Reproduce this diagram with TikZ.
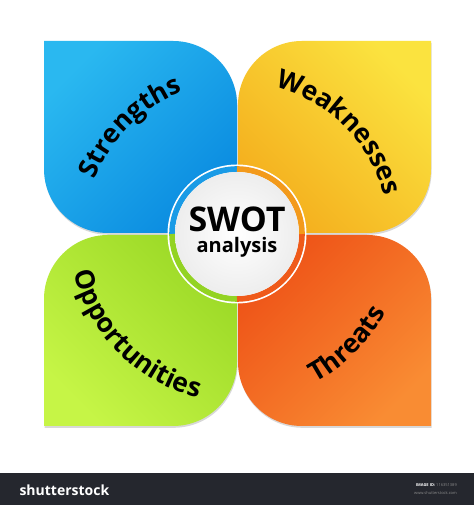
\documentclass[tikz,border=0pt]{standalone}
\usepackage{fontspec}
\newfontfamily\swotfont{Open Sans}
\usetikzlibrary{decorations.text,shadows}

\definecolor{strengthlight}{HTML}{2AB8F0}
\definecolor{strengthdark}{HTML}{0A8BE0}
\definecolor{weaklight}{HTML}{FBE33F}
\definecolor{weakdark}{HTML}{F4AE1D}
\definecolor{opplight}{HTML}{C6F546}
\definecolor{oppdark}{HTML}{9BD926}
\definecolor{threatlight}{HTML}{F98C33}
\definecolor{threatdark}{HTML}{EE5217}
\definecolor{ringblue}{HTML}{1A9BE6}
\definecolor{ringorange}{HTML}{F39A1B}
\definecolor{ringgreen}{HTML}{93D323}
\definecolor{ringred}{HTML}{EF5A1A}
\definecolor{barcolor}{HTML}{25272E}

\def\petalrad{64}
\newcommand\labelfont{\swotfont\bfseries\fontsize{26.5}{26.5}\selectfont}

\begin{document}
\begin{tikzpicture}[x=1pt,y=1pt]
    \tikzstyle{petal}=[drop shadow={shadow xshift=0.6pt,shadow yshift=-1.8pt,opacity=.3}]
    \tikzstyle{ring}=[line width=5.8pt]
    \tikzstyle{label}=[decorate,decoration={text along path,text align=center,text={#1}}]
    \useasboundingbox (0,0) rectangle (474,505);
    \fill[white] (0,0) rectangle (474,505);
    \coordinate (centre) at (237,271);

    % Strengths
    \shade[petal,top color=strengthlight,bottom color=strengthdark,shading angle=45]
        (44,464) -- (173,464) arc[start angle=90,end angle=0,radius=\petalrad]
        -- (237,272) -- (108,272) arc[start angle=270,end angle=180,radius=\petalrad] -- cycle;
    % Weaknesses
    \shade[petal,top color=weaklight,bottom color=weakdark,shading angle=-45]
        (238,272) -- (238,400) arc[start angle=180,end angle=90,radius=\petalrad]
        -- (431,464) -- (431,336) arc[start angle=0,end angle=-90,radius=\petalrad] -- cycle;
    % Opportunities
    \shade[petal,top color=oppdark,bottom color=opplight,shading angle=-45]
        (44,79) -- (44,206) arc[start angle=180,end angle=90,radius=\petalrad]
        -- (237,270) -- (237,143) arc[start angle=0,end angle=-90,radius=\petalrad] -- cycle;
    % Threats
    \shade[petal,top color=threatdark,bottom color=threatlight,shading angle=45]
        (238,270) -- (367,270) arc[start angle=90,end angle=0,radius=\petalrad]
        -- (431,79) -- (302,79) arc[start angle=270,end angle=180,radius=\petalrad] -- cycle;

    % Centre circle
    \fill[white] (centre) circle[radius=69.5];
    \draw[ring,ringblue] (237,335.9) arc[start angle=90,end angle=180,radius=64.9];
    \draw[ring,ringgreen] (172.1,271) arc[start angle=180,end angle=270,radius=64.9];
    \draw[ring,ringred] (237,206.1) arc[start angle=270,end angle=360,radius=64.9];
    \draw[ring,ringorange] (301.9,271) arc[start angle=0,end angle=90,radius=64.9];
    \shade[inner color=white,outer color=black!7] (centre) circle[radius=62];
    \path
    (237,273.5) node[anchor=base] (swot) {\swotfont\bfseries\fontsize{34}{34}\selectfont SWOT}
    (237,252.3) node[anchor=base] (analysis) {\swotfont\bfseries\fontsize{20}{20}\selectfont analysis};

    % Labels on the arcs
    \path[label={|\labelfont|Strengths}] (85,271) arc[start angle=180,end angle=90,radius=152];
    \path[label={|\labelfont|Weaknesses}] (237,423) arc[start angle=90,end angle=0,radius=152];
    \path[label={|\labelfont|Opportunities}] (69,271) arc[start angle=180,end angle=270,radius=168];
    \path[label={|\labelfont|Threats}] (237,103) arc[start angle=270,end angle=360,radius=168];

    % Bottom bar
    \fill[barcolor] (0,0) rectangle (474,32);
    \path
    (16,14.5) node[anchor=west,white] (logo) {\swotfont\bfseries\fontsize{14}{14}\selectfont shutterstock}
    (457,20) node[anchor=east,inner sep=0pt] (imageid) {\swotfont\fontsize{4}{4}\selectfont\textcolor{white}{\bfseries IMAGE ID:} \textcolor{black!45}{116351389}}
    (457,12) node[anchor=east,inner sep=0pt,black!45] (site) {\swotfont\fontsize{4}{4}\selectfont www.shutterstock.com};
\end{tikzpicture}
\end{document}
